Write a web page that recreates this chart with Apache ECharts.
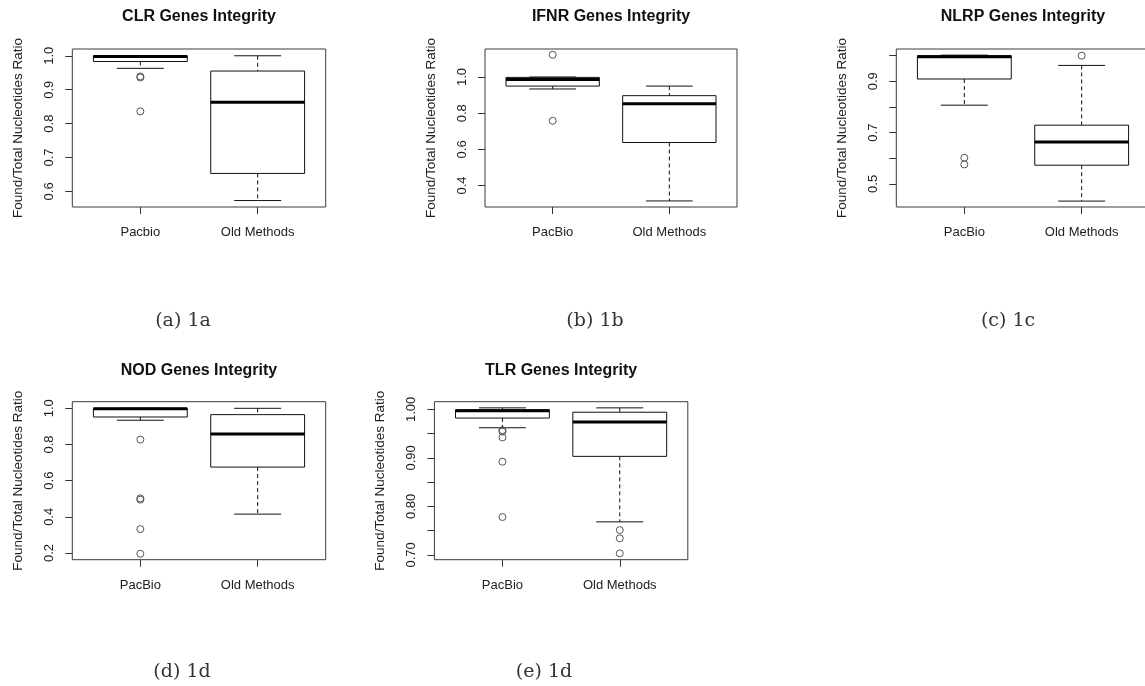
<!DOCTYPE html>
<html><head><meta charset="utf-8">
<script src="https://cdn.jsdelivr.net/npm/echarts@6/dist/echarts.min.js"></script>
<style>html,body{margin:0;padding:0;background:#fff}#c{width:1145px;height:686px}</style>
</head><body><div id="c"></div>
<script>
// ---------- data ----------
const groups = ['Pacbio', 'Old Methods'];
const groupsB = ['PacBio', 'Old Methods'];
const titles = ['CLR Genes Integrity', 'IFNR Genes Integrity', 'NLRP Genes Integrity', 'NOD Genes Integrity', 'TLR Genes Integrity'];
const captions = ['(a) 1a', '(b) 1b', '(c) 1c', '(d) 1d', '(e) 1d'];
const yName = 'Found/Total Nucleotides Ratio';

// box stats: [lower whisker, Q1, median, Q3, upper whisker]
const clrPacbio = [0.963, 0.983, 0.998, 1.000, 1.000];
const clrOld    = [0.573, 0.653, 0.863, 0.955, 1.000];
const clrOutPacbio = [0.936, 0.939, 0.836];
const clrOutOld = [];

const ifnrPacbio = [0.934, 0.950, 0.987, 0.998, 1.000];
const ifnrOld    = [0.315, 0.638, 0.852, 0.897, 0.950];
const ifnrOutPacbio = [1.123, 0.758];
const ifnrOutOld = [];

const nlrpPacbio = [0.807, 0.909, 0.996, 1.000, 1.002];
const nlrpOld    = [0.433, 0.573, 0.663, 0.729, 0.962];
const nlrpOutPacbio = [0.602, 0.576];
const nlrpOutOld = [1.000];

const nodPacbio = [0.934, 0.952, 0.998, 1.000, 1.000];
const nodOld    = [0.415, 0.675, 0.858, 0.965, 1.000];
const nodOutPacbio = [0.827, 0.502, 0.495, 0.332, 0.196];
const nodOutOld = [];

const tlrPacbio = [0.962, 0.982, 0.997, 0.999, 1.003];
const tlrOld    = [0.768, 0.903, 0.974, 0.994, 1.003];
const tlrOutPacbio = [0.957, 0.954, 0.942, 0.892, 0.778];
const tlrOutOld = [0.751, 0.734, 0.703];

// tick values and labels
const clrTicks = [0.6, 0.7, 0.8, 0.9, 1.0];
const clrLabels = [0.6, 0.7, 0.8, 0.9, 1.0];
const ifnrTicks = [0.4, 0.6, 0.8, 1.0];
const ifnrLabels = [0.4, 0.6, 0.8, 1.0];
const nlrpTicks = [0.5, 0.6, 0.7, 0.8, 0.9, 1.0];
const nlrpLabels = [0.5, 0.7, 0.9];
const nodTicks = [0.2, 0.4, 0.6, 0.8, 1.0];
const nodLabels = [0.2, 0.4, 0.6, 0.8, 1.0];
const tlrTicks = [0.70, 0.75, 0.80, 0.85, 0.90, 0.95, 1.00];
const tlrLabels = [0.70, 0.80, 0.90, 1.00];

// ---------- layout ----------
const panels = [
  {box: [clrPacbio, clrOld], out: [clrOutPacbio, clrOutOld], ticks: clrTicks, labels: clrLabels, dec: 1, names: groups,
   ymin: 0.554, ymax: 1.020, left: 72.3, top: 49, width: 253.4, height: 158},
  {box: [ifnrPacbio, ifnrOld], out: [ifnrOutPacbio, ifnrOutOld], ticks: ifnrTicks, labels: ifnrLabels, dec: 1, names: groupsB,
   ymin: 0.2815, ymax: 1.155, left: 485, top: 49, width: 252, height: 158},
  {box: [nlrpPacbio, nlrpOld], out: [nlrpOutPacbio, nlrpOutOld], ticks: nlrpTicks, labels: nlrpLabels, dec: 1, names: groupsB,
   ymin: 0.410, ymax: 1.026, left: 896.3, top: 49, width: 253.4, height: 158},
  {box: [nodPacbio, nodOld], out: [nodOutPacbio, nodOutOld], ticks: nodTicks, labels: nodLabels, dec: 1, names: groupsB,
   ymin: 0.163, ymax: 1.0365, left: 72.3, top: 401.7, width: 253.4, height: 158},
  {box: [tlrPacbio, tlrOld], out: [tlrOutPacbio, tlrOutOld], ticks: tlrTicks, labels: tlrLabels, dec: 2, names: groupsB,
   ymin: 0.690, ymax: 1.0157, left: 434.4, top: 401.7, width: 253.4, height: 158}
];
const captionPos = [[183, 321], [595, 321], [1008, 321], [182, 672], [544, 672]];

const FONT = '"Liberation Sans", Arial, sans-serif';

function renderBox(params, api) {
  const x = api.value(0), lo = api.value(1), q1 = api.value(2), md = api.value(3), q3 = api.value(4), hi = api.value(5);
  const bw = 0.4, cw = 0.2;
  const tl = api.coord([x - bw, q3]), br = api.coord([x + bw, q1]);
  const ml = api.coord([x - bw, md]), mr = api.coord([x + bw, md]);
  const ph = api.coord([x, hi]), pq3 = api.coord([x, q3]), pq1 = api.coord([x, q1]), pl = api.coord([x, lo]);
  const chl = api.coord([x - cw, hi]), chr = api.coord([x + cw, hi]);
  const cll = api.coord([x - cw, lo]), clr = api.coord([x + cw, lo]);
  const solid = {stroke: '#111', lineWidth: 1, fill: null};
  const dashed = {stroke: '#111', lineWidth: 1, lineDash: [4, 3], fill: null};
  return {type: 'group', children: [
    {type: 'line', shape: {x1: ph[0], y1: ph[1], x2: pq3[0], y2: pq3[1]}, style: dashed},
    {type: 'line', shape: {x1: pq1[0], y1: pq1[1], x2: pl[0], y2: pl[1]}, style: dashed},
    {type: 'line', shape: {x1: chl[0], y1: chl[1], x2: chr[0], y2: chr[1]}, style: solid},
    {type: 'line', shape: {x1: cll[0], y1: cll[1], x2: clr[0], y2: clr[1]}, style: solid},
    {type: 'rect', shape: {x: tl[0], y: tl[1], width: br[0] - tl[0], height: br[1] - tl[1]},
      style: {stroke: '#111', lineWidth: 1, fill: '#fff'}},
    {type: 'line', shape: {x1: ml[0], y1: ml[1], x2: mr[0], y2: mr[1]}, style: {stroke: '#000', lineWidth: 3}}
  ]};
}

const grid = [], xAxis = [], yAxis = [], series = [], graphic = [];
panels.forEach((p, i) => {
  grid.push({left: p.left, top: p.top, width: p.width, height: p.height, show: true,
    borderColor: '#3a3a3a', borderWidth: 1, backgroundColor: 'transparent', containLabel: false, outerBoundsMode: 'none'});
  xAxis.push({type: 'value', gridIndex: i, min: 0.42, max: 2.58,
    axisLine: {show: false}, splitLine: {show: false},
    axisTick: {show: true, customValues: [1, 2], length: 7, lineStyle: {color: '#333'}},
    axisLabel: {customValues: [1, 2], formatter: v => p.names[Math.round(v) - 1], margin: 19,
      fontSize: 13, fontFamily: FONT, color: '#222'}});
  yAxis.push({type: 'value', gridIndex: i, min: p.ymin, max: p.ymax,
    axisLine: {show: false}, splitLine: {show: false},
    axisTick: {show: true, customValues: p.ticks, length: 7, lineStyle: {color: '#333'}},
    axisLabel: {customValues: p.labels, rotate: 90, margin: 16, formatter: v => Number(v).toFixed(p.dec),
      fontSize: 13, fontFamily: FONT, color: '#222'},
    name: yName, nameLocation: 'middle', nameGap: 47,
    nameTextStyle: {fontSize: 13.5, fontFamily: FONT, color: '#222'}});
  series.push({type: 'custom', xAxisIndex: i, yAxisIndex: i, renderItem: renderBox,
    encode: {x: 0, y: [1, 2, 3, 4, 5]},
    data: p.box.map((b, g) => [g + 1].concat(b)), silent: true, z: 2});
  const outs = [];
  p.out.forEach((arr, g) => arr.forEach(v => outs.push([g + 1, v])));
  series.push({type: 'scatter', xAxisIndex: i, yAxisIndex: i, data: outs, symbol: 'circle', symbolSize: 7,
    itemStyle: {color: 'rgba(255,255,255,0)', borderColor: '#555', borderWidth: 1, opacity: 1}, silent: true, z: 3});
  graphic.push({type: 'text', x: p.left + p.width / 2, y: i < 3 ? 17 : 371, style: {text: titles[i],
    font: 'bold 16px ' + FONT, fill: '#111', textAlign: 'center', textVerticalAlign: 'middle'}});
  graphic.push({type: 'text', x: captionPos[i][0], y: captionPos[i][1], style: {text: captions[i],
    font: '19px "DejaVu Serif", serif', fill: '#333', textAlign: 'center', textVerticalAlign: 'middle'}});
});

const chart = echarts.init(document.getElementById('c'), null, {renderer: 'canvas'});
chart.setOption({animation: false, backgroundColor: '#fff', grid, xAxis, yAxis, series, graphic});
</script>
</body></html>
